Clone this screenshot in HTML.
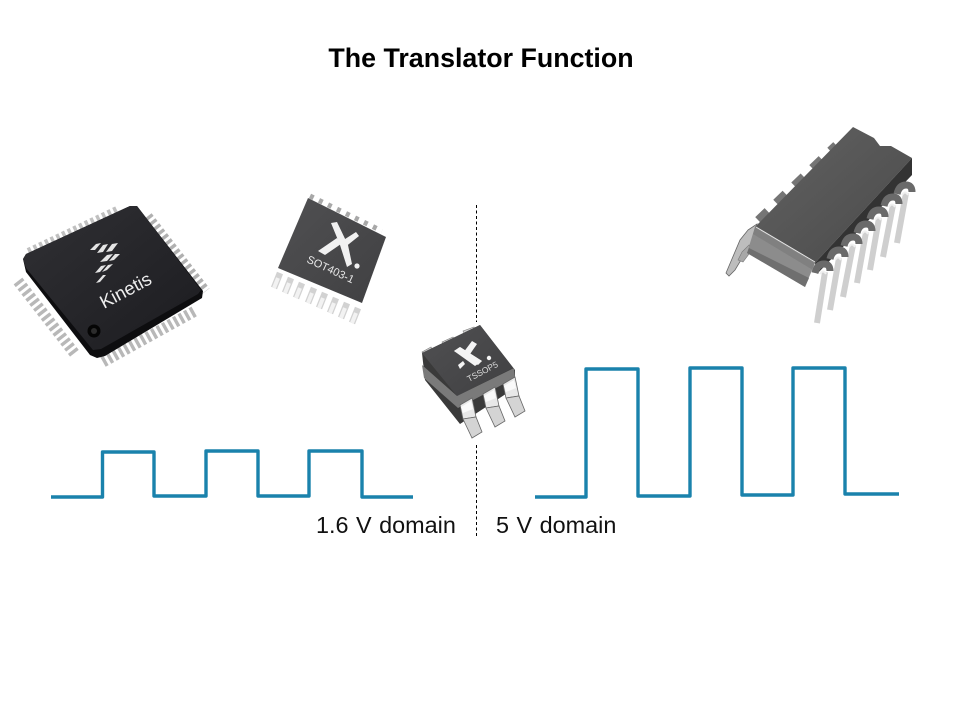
<!DOCTYPE html>
<html>
<head>
<meta charset="utf-8">
<title>The Translator Function</title>
<style>
html,body{margin:0;padding:0;background:#fff}
svg{display:block}
text{font-family:"Liberation Sans",sans-serif}
</style>
</head>
<body>
<svg width="960" height="720" viewBox="0 0 960 720" xmlns="http://www.w3.org/2000/svg">
<defs>
<linearGradient id="k" x1="0" y1="0" x2="1" y2="1"><stop offset="0" stop-color="#303034"/><stop offset="1" stop-color="#1c1c20"/></linearGradient>
<linearGradient id="s" x1="0" y1="0" x2="1" y2="1"><stop offset="0" stop-color="#505052"/><stop offset="1" stop-color="#404042"/></linearGradient>
<linearGradient id="d" x1="0" y1="0" x2="1" y2="1"><stop offset="0" stop-color="#626262"/><stop offset="1" stop-color="#4a4a4a"/></linearGradient>
<g id="tp">
<polygon points="460,405 472,398 476,417 463,419" fill="#e8e8e8" stroke="#666" stroke-width="0.8"/>
<polygon points="463,419 476,417 482,432 472,438" fill="#d4d4d4" stroke="#666" stroke-width="0.8"/>
<polygon points="461,407 471,401 473,409 463,413" fill="#fafafa"/>
</g>
<g id="dp">
<path d="M-8 6 Q-6 -3 1 -3 Q7 -3 7 4" fill="none" stroke="#6a6a6a" stroke-width="7"/>
<path d="M-3 7 Q0 2 3 7" fill="none" stroke="#f0f0f0" stroke-width="2"/>
</g>
</defs>
<rect width="960" height="720" fill="#fff"/>

<text x="481" y="67" font-size="26.8" font-weight="bold" text-anchor="middle" fill="#000">The Translator Function</text>

<!-- divider -->
<line x1="476.5" y1="205" x2="476.5" y2="322" stroke="#000" stroke-width="1" stroke-dasharray="3 2.5"/>
<line x1="476.5" y1="445" x2="476.5" y2="536" stroke="#000" stroke-width="1" stroke-dasharray="3 2.5"/>

<!-- Kinetis chip -->
<g fill="none" stroke-dasharray="3.4 2.9">
<line x1="18" y1="281" x2="75" y2="354" stroke="#b8b8b8" stroke-width="11"/>
<line x1="103" y1="362" x2="195" y2="311" stroke="#b8b8b8" stroke-width="11"/>
<line x1="148" y1="216" x2="206" y2="291" stroke="#b0b0b0" stroke-width="9"/>
<line x1="28" y1="251" x2="119" y2="208" stroke="#c0c0c0" stroke-width="6"/>
</g>
<polygon points="23,259 26,254 130,206 137,206 203,291 202,298 105,356 97,358 90,355 26,272" fill="#0d0d0f"/>
<polygon points="23,259 26,254 130,206 137,206 201,290 198,294 101,349 93,350 26,268" fill="url(#k)"/>
<g fill="#e4e4e4">
<polygon points="90,250 96,244 101,243 95,250"/>
<polygon points="97,253 103,245 108,244 103,252"/>
<polygon points="106,252 112,244 118,243 112,251"/>
<polygon points="100,262 107,255 113,254 107,261"/>
<polygon points="109,261 115,254 120,254 114,260"/>
<polygon points="95,273 101,266 106,265 100,272"/>
<polygon points="102,272 108,265 113,264 107,270"/>
<polygon points="96,283 103,275 106,275 100,282"/>
</g>
<text font-size="18.5" fill="#eee" transform="translate(104,309) rotate(-28)">Kinetis</text>
<circle cx="94" cy="331" r="6.5" fill="#050505"/>
<circle cx="94" cy="331" r="3" fill="#2c2c2c"/>

<!-- SOT403 chip -->
<g fill="none" stroke-width="6.5" stroke="#d2d2d2">
<path d="M280 273 L274 288"/><path d="M291 278 L285 293"/><path d="M302 283 L296 298"/><path d="M314 288 L308 303"/>
<path d="M325 293 L319 308"/><path d="M336 298 L330 313"/><path d="M347 303 L341 318"/><path d="M358 308 L352 323"/>
</g>
<g fill="none" stroke-width="4" stroke="#f2f2f2">
<path d="M278 278 L274 288"/><path d="M289 283 L285 293"/><path d="M300 288 L296 298"/><path d="M312 293 L308 303"/>
<path d="M323 298 L319 308"/><path d="M334 303 L330 313"/><path d="M345 308 L341 318"/><path d="M356 313 L352 323"/>
</g>
<line x1="310" y1="196" x2="382" y2="231" stroke="#a8a8a8" stroke-width="5" stroke-dasharray="4 6"/>
<polygon points="308,198 386,237 362,303 278,268" fill="url(#s)"/>
<g fill="#f1f1f1">
<polygon points="331,223 337,222 348,245 352,264 347,267 340,245"/>
<polygon points="356,232 359,236 344,248 342,241"/>
<polygon points="337,238 341,244 325,255 318,251"/>
<circle cx="357" cy="266" r="2.6"/>
</g>
<text font-size="11" fill="#e8e8e8" transform="translate(306,262) rotate(25)">SOT403-1</text>

<!-- TSSOP5 chip -->
<g fill="#d0d0d0" stroke="#777" stroke-width="0.6">
<polygon points="422,352 431,347 434,353 425,358"/>
<polygon points="442,342 453,337 456,343 445,348"/>
<polygon points="463,331 474,327 476,333 466,337"/>
</g>
<polygon points="422,353 480,325 515,370 515,388 460,424 425,380" fill="#3a3a3a"/>
<polygon points="422,353 480,325 513,368 457,396" fill="url(#s)"/>
<polygon points="422,365 457,396 514,368 515,378 458,408 424,378" fill="#7a7a7a"/>
<g fill="#f4f4f4">
<polygon points="454,351 460,347 482,361 478,365"/>
<polygon points="454,351 460,347 482,361 475,366"/>
<polygon points="472,341 477,344 468,357 463,353"/>
<polygon points="458,365 463,361 465,364 460,369"/>
<circle cx="489" cy="358" r="2.2"/>
</g>
<text font-size="8.5" fill="#ddd" transform="translate(469,382) rotate(-28)">TSSOP5</text>
<use href="#tp"/>
<use href="#tp" transform="translate(23,-11)"/>
<use href="#tp" transform="translate(43,-21)"/>

<!-- DIP chip -->
<line x1="758" y1="220" x2="836" y2="145" stroke="#757575" stroke-width="8" stroke-dasharray="13 12"/>
<polygon points="748,230 757,224 753,240 735,270 729,276 726,273 740,240" fill="#bdbdbd" stroke="#666" stroke-width="0.8"/>
<polygon points="742,252 749,245 752,250 743,262 738,260" fill="#a8a8a8" stroke="#777" stroke-width="0.6"/>
<polygon points="755,227 853,127 874,138 880,146 891,146 912,158 815,263" fill="url(#d)"/>
<polygon points="912,158 912,175 817,274 815,263" fill="#333"/>
<polygon points="755,227 815,263 805,287 747,253" fill="#8c8c8c"/>
<polygon points="755,227 815,263 813,270 753,234" fill="#5c5c5c" opacity=".25"/>
<polygon points="749,248 809,278 805,287 747,253" fill="#6f6f6f"/>
<line x1="756" y1="227" x2="815" y2="262" stroke="#e8e8e8" stroke-width="1"/>
<g stroke="#cfcfcf" stroke-width="6" fill="none">
<path d="M825 272 L817 323"/><path d="M839 258 L830 310"/><path d="M853 245 L843 297"/><path d="M866 232 L857 283"/>
<path d="M879 218 L870 270"/><path d="M893 205 L883 257"/><path d="M906 193 L897 243"/>
</g>
<use href="#dp" transform="translate(823,267)"/>
<use href="#dp" transform="translate(838,253)"/>
<use href="#dp" transform="translate(852,240)"/>
<use href="#dp" transform="translate(865,227)"/>
<use href="#dp" transform="translate(878,213)"/>
<use href="#dp" transform="translate(892,200)"/>
<use href="#dp" transform="translate(905,188)"/>

<!-- Waveforms -->
<polyline points="51,497 102.5,497 102.5,452 154,452 154,496 206,496 206,451 258,451 258,496 309,496 309,451 362,451 362,497 413,497" fill="none" stroke="#1a82ac" stroke-width="3.4" stroke-linejoin="round"/>
<polyline points="535,497 586,497 586,369 638,369 638,496 690,496 690,368 742,368 742,495 793,495 793,368 845,368 845,494 899,494" fill="none" stroke="#1a82ac" stroke-width="3.4" stroke-linejoin="round"/>

<!-- Labels -->
<text x="316" y="533" font-size="23.4" fill="#111" word-spacing="1">1.6 V domain</text>
<text x="496" y="533" font-size="23.4" fill="#111" word-spacing="1">5 V domain</text>
</svg>
</body>
</html>
